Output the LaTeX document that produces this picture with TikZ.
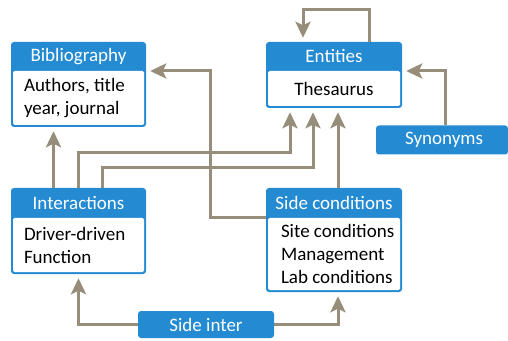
\documentclass[tikz,border=0pt]{standalone}
\usepackage{fontspec}
\setmainfont{Carlito}
\usepackage{xcolor}
\usepackage{tikz}
\usetikzlibrary{arrows.meta,calc,positioning}

\definecolor{hdblue}{RGB}{36,139,210}
\definecolor{linkgray}{RGB}{150,141,122}

\tikzset{
	box/.style={fill=hdblue,rounded corners=3pt,inner sep=0pt},
	body/.style={fill=white,rounded corners=1.5pt,inner sep=0pt},
	head/.style={text=white,inner sep=0pt},
	txt/.style={text=black,inner sep=0pt,align=left},
	link/.style={draw=linkgray,line width=3pt,shorten >=4pt,
		-{Stealth[length=16pt,width=15pt,inset=3.5pt]}}
}

\begin{document}
\begin{tikzpicture}[x=1pt,y=1pt,font=\fontsize{19}{23}\selectfont]
		\useasboundingbox (0,0) rectangle (508,340);
		% boxes
		\node[box,minimum width=135pt,minimum height=85pt] (bib) at (78.5,255.5) {};
		\node[body,minimum width=131pt,minimum height=54pt,anchor=south] (bibb) at ([yshift=2pt]bib.south) {};
		\node[head] at ([yshift=-14.5pt]bib.north) {Bibliography};
		\node[txt,anchor=west] at ([xshift=11pt]bibb.west) {Authors, title\\year, journal};
		
		\node[box,minimum width=136pt,minimum height=66pt] (ent) at (334,265) {};
		\node[body,minimum width=132pt,minimum height=35pt,anchor=south] (entb) at ([yshift=2pt]ent.south) {};
		\node[head] at ([yshift=-14.5pt]ent.north) {Entities};
		\node[txt] at (entb) {Thesaurus};
		
		\node[box,minimum width=132pt,minimum height=29pt] (syn) at (442,200) {};
		\node[head] at ([xshift=2pt]syn.center) {Synonyms};
		
		\node[box,minimum width=135pt,minimum height=86pt] (inter) at (78.5,109) {};
		\node[body,minimum width=131pt,minimum height=54pt,anchor=south] (interb) at ([yshift=2pt]inter.south) {};
		\node[head] at ([yshift=-15pt]inter.north) {Interactions};
		\node[txt,anchor=west] at ([xshift=11pt]interb.west) {Driver-driven\\Function};
		
		\node[box,minimum width=136pt,minimum height=104pt] (side) at (334,100) {};
		\node[body,minimum width=132pt,minimum height=72pt,anchor=south] (sideb) at ([yshift=2pt]side.south) {};
		\node[head] at ([yshift=-15pt]side.north) {Side conditions};
		\node[txt,anchor=west] at ([xshift=13pt]sideb.west) {Site conditions\\Management\\Lab conditions};
		
		\node[box,minimum width=136pt,minimum height=27pt] (sint) at (206,15.5) {};
		\node[head] at (sint.center) {Side inter};
		
		% connectors
		\draw[link] ([xshift=35pt]ent.north) -- ++(0,32) -| ([xshift=-31pt]ent.north);
		\draw[link] ([xshift=3pt]syn.north) |- ([yshift=4pt]ent.east);
		\draw[link] (sint.west) -| (inter.south);
		\draw[link] (sint.east) -| ([xshift=4pt]side.south);
		\draw[link] ([xshift=-25pt]inter.north) -- ([xshift=-25pt]bib.south);
		\draw[link] (inter.north) -- ++(0,35) -| ([xshift=-44pt]ent.south);
		\draw[link] ([xshift=24pt]inter.north) -- ++(0,20) -| ([xshift=-21pt]ent.south);
		\draw[link] ([xshift=4pt]side.north) -- ([xshift=4pt]ent.south);
		\draw[link] ([yshift=22pt]side.west) -- ++(-55,0) |- ([yshift=13.5pt]bib.east);
	\end{tikzpicture}
\end{document}
